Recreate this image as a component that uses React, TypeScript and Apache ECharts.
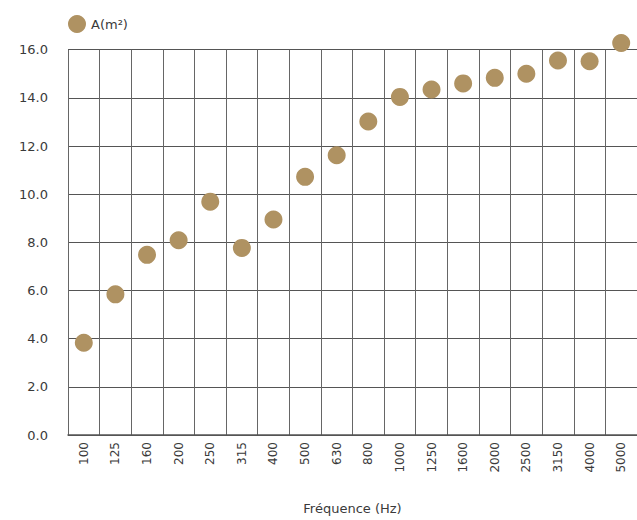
import React, { useEffect, useRef } from "react";
import * as echarts from "echarts";

const categories = ["100", "125", "160", "200", "250", "315", "400", "500", "630", "800", "1000", "1250", "1600", "2000", "2500", "3150", "4000", "5000"];
const values = [3.83, 5.84, 7.48, 8.09, 9.69, 7.77, 8.95, 10.72, 11.62, 13.02, 14.04, 14.35, 14.6, 14.83, 15.0, 15.55, 15.52, 16.28];
const seriesName = "A(m²)";
const xName = "Fréquence (Hz)";

export default function App() {
  const ref = useRef<HTMLDivElement>(null);
  useEffect(() => {
    if (!ref.current) return;
    const chart = echarts.init(ref.current, null, { renderer: "svg" });
    const font = "DejaVu Sans";
    chart.setOption({
      animation: false,
      textStyle: { fontFamily: font },
      legend: {
        left: 63,
        top: 10,
        itemWidth: 18,
        itemHeight: 18,
        itemGap: 5,
        icon: "circle",
        textStyle: { fontFamily: font, fontSize: 13, color: "#3a3a3a" },
        data: [seriesName],
      },
      grid: { left: 68, right: -2, top: 49.7, bottom: 80.5, containLabel: false },
      xAxis: {
        type: "category",
        data: categories,
        boundaryGap: true,
        name: xName,
        nameLocation: "middle",
        nameGap: 67,
        nameTextStyle: { fontFamily: font, fontSize: 13, color: "#3a3a3a" },
        axisLine: { show: true, lineStyle: { color: "#555", width: 1.5 } },
        axisTick: { show: false },
        axisLabel: { rotate: 90, margin: 7, fontFamily: font, fontSize: 12, color: "#3a3a3a", interval: 0 },
        splitLine: { show: true, interval: 0, lineStyle: { color: "#666", width: 1 } },
      },
      yAxis: {
        type: "value",
        min: 0,
        max: 16,
        interval: 2,
        axisLine: { show: false },
        axisTick: { show: false },
        axisLabel: { margin: 20, fontFamily: font, fontSize: 13, color: "#3a3a3a", formatter: (v: number) => v.toFixed(1) },
        splitLine: { show: true, lineStyle: { color: "#555", width: 1.2 } },
      },
      series: [
        {
          name: seriesName,
          type: "scatter",
          data: values,
          symbol: "circle",
          symbolSize: 18,
          clip: false,
          itemStyle: { color: "#AF9262", opacity: 1 },
        },
      ],
    });
    return () => chart.dispose();
  }, []);
  return <div ref={ref} style={{ position: "absolute", left: 0, top: 0, width: 637, height: 520 }} />;
}
